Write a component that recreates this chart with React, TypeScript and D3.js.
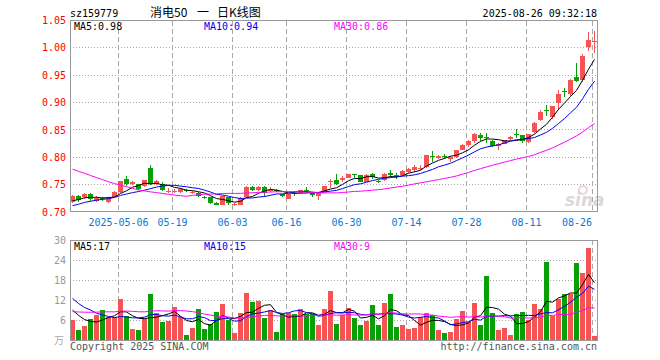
import React from "react";
import * as d3 from "d3";

// trading sessions shown (88), oldest first
const dates = [
  "2025-04-21", "2025-04-22", "2025-04-23", "2025-04-24", "2025-04-25", "2025-04-28", "2025-04-29", "2025-04-30",
  "2025-05-06", "2025-05-07", "2025-05-08", "2025-05-09", "2025-05-12", "2025-05-13", "2025-05-14", "2025-05-15", "2025-05-16",
  "2025-05-19", "2025-05-20", "2025-05-21", "2025-05-22", "2025-05-23", "2025-05-26", "2025-05-27", "2025-05-28", "2025-05-29", "2025-05-30",
  "2025-06-03", "2025-06-04", "2025-06-05", "2025-06-06", "2025-06-09", "2025-06-10", "2025-06-11", "2025-06-12", "2025-06-13",
  "2025-06-16", "2025-06-17", "2025-06-18", "2025-06-19", "2025-06-20", "2025-06-23", "2025-06-24", "2025-06-25", "2025-06-26", "2025-06-27",
  "2025-06-30", "2025-07-01", "2025-07-02", "2025-07-03", "2025-07-04", "2025-07-07", "2025-07-08", "2025-07-09", "2025-07-10", "2025-07-11",
  "2025-07-14", "2025-07-15", "2025-07-16", "2025-07-17", "2025-07-18", "2025-07-21", "2025-07-22", "2025-07-23", "2025-07-24", "2025-07-25",
  "2025-07-28", "2025-07-29", "2025-07-30", "2025-07-31", "2025-08-01", "2025-08-04", "2025-08-05", "2025-08-06", "2025-08-07", "2025-08-08",
  "2025-08-11", "2025-08-12", "2025-08-13", "2025-08-14", "2025-08-15", "2025-08-18", "2025-08-19", "2025-08-20", "2025-08-21", "2025-08-22", "2025-08-25",
  "2025-08-26",
];

const opens = [
  0.718, 0.730, 0.727, 0.733, 0.720, 0.725, 0.718, 0.728, 0.737, 0.760,
  0.751, 0.751, 0.748, 0.780, 0.751, 0.751, 0.738, 0.737, 0.736, 0.740,
  0.735, 0.735, 0.728, 0.727, 0.717, 0.713, 0.727, 0.713, 0.713, 0.727,
  0.746, 0.740, 0.745, 0.739, 0.740, 0.732, 0.724, 0.734, 0.735, 0.741,
  0.734, 0.729, 0.737, 0.756, 0.758, 0.758, 0.763, 0.769, 0.767, 0.755,
  0.769, 0.757, 0.758, 0.772, 0.767, 0.767, 0.774, 0.776, 0.780, 0.782,
  0.803, 0.798, 0.802, 0.796, 0.801, 0.814, 0.822, 0.830, 0.841, 0.837,
  0.830, 0.820, 0.825, 0.833, 0.842, 0.840, 0.828, 0.846, 0.869, 0.886,
  0.874, 0.899, 0.922, 0.915, 0.947, 0.941, 1.001, 1.010,
];
const highs = [
  0.731, 0.731, 0.735, 0.734, 0.729, 0.727, 0.727, 0.738, 0.757, 0.766,
  0.757, 0.752, 0.759, 0.785, 0.759, 0.754, 0.744, 0.742, 0.744, 0.742,
  0.739, 0.737, 0.729, 0.728, 0.718, 0.729, 0.728, 0.717, 0.727, 0.747,
  0.747, 0.748, 0.747, 0.745, 0.742, 0.733, 0.733, 0.738, 0.741, 0.746,
  0.735, 0.737, 0.748, 0.760, 0.769, 0.766, 0.770, 0.769, 0.768, 0.769,
  0.771, 0.758, 0.771, 0.777, 0.772, 0.776, 0.780, 0.785, 0.786, 0.805,
  0.811, 0.804, 0.806, 0.802, 0.814, 0.825, 0.831, 0.844, 0.845, 0.845,
  0.832, 0.827, 0.832, 0.838, 0.851, 0.841, 0.843, 0.864, 0.886, 0.895,
  0.894, 0.923, 0.926, 0.943, 0.972, 0.988, 1.029, 1.030,
];
const lows = [
  0.716, 0.719, 0.724, 0.721, 0.718, 0.720, 0.716, 0.727, 0.735, 0.748,
  0.749, 0.740, 0.746, 0.750, 0.749, 0.739, 0.735, 0.734, 0.734, 0.736,
  0.733, 0.727, 0.724, 0.715, 0.712, 0.712, 0.712, 0.711, 0.712, 0.726,
  0.739, 0.739, 0.727, 0.737, 0.736, 0.727, 0.723, 0.730, 0.734, 0.735,
  0.728, 0.722, 0.736, 0.743, 0.750, 0.755, 0.762, 0.762, 0.754, 0.754,
  0.760, 0.753, 0.757, 0.764, 0.761, 0.766, 0.772, 0.774, 0.777, 0.781,
  0.791, 0.796, 0.797, 0.792, 0.799, 0.813, 0.818, 0.827, 0.830, 0.826,
  0.818, 0.814, 0.824, 0.832, 0.835, 0.827, 0.826, 0.845, 0.867, 0.875,
  0.870, 0.886, 0.910, 0.912, 0.938, 0.938, 0.995, 0.990,
];
const closes = [
  0.730, 0.722, 0.733, 0.724, 0.726, 0.723, 0.726, 0.737, 0.757, 0.751,
  0.755, 0.742, 0.758, 0.751, 0.756, 0.741, 0.739, 0.738, 0.742, 0.739,
  0.737, 0.729, 0.727, 0.717, 0.713, 0.729, 0.717, 0.714, 0.725, 0.746,
  0.740, 0.746, 0.735, 0.740, 0.738, 0.729, 0.732, 0.733, 0.740, 0.740,
  0.731, 0.735, 0.747, 0.757, 0.751, 0.762, 0.769, 0.768, 0.755, 0.768,
  0.764, 0.755, 0.770, 0.767, 0.764, 0.775, 0.778, 0.783, 0.781, 0.804,
  0.801, 0.803, 0.801, 0.801, 0.813, 0.823, 0.830, 0.843, 0.836, 0.836,
  0.821, 0.825, 0.831, 0.837, 0.840, 0.830, 0.842, 0.863, 0.883, 0.884,
  0.893, 0.915, 0.921, 0.942, 0.940, 0.986, 1.015, 1.012,
];
// volume, 万
const volumes = [
  6.0, 3.0, 4.2, 6.3, 7.5, 9.0, 6.8, 6.8, 12.3, 7.2,
  3.3, 3.0, 6.2, 13.8, 8.0, 5.4, 5.7, 9.8, 6.8, 1.5,
  3.6, 9.3, 3.3, 4.7, 8.4, 10.8, 6.0, 2.1, 8.1, 14.1,
  11.5, 11.7, 6.7, 9.0, 2.5, 7.9, 8.1, 7.8, 9.2, 7.8,
  7.8, 4.5, 9.3, 14.7, 4.8, 7.5, 9.7, 6.5, 4.5, 5.8,
  10.5, 4.5, 11.2, 13.8, 3.9, 4.5, 3.4, 3.7, 6.8, 8.2,
  7.5, 3.1, 2.1, 2.5, 6.4, 8.8, 5.5, 11.2, 4.5, 19.3,
  8.2, 3.1, 3.7, 1.6, 7.8, 8.5, 6.0, 10.8, 9.3, 23.4,
  7.3, 12.3, 13.8, 13.8, 23.1, 20.1, 27.7, 1.2,
];

// the 29 sessions before the window, only used to warm up the moving averages
const priorCloses = [
  0.842, 0.838, 0.845, 0.840, 0.836, 0.842, 0.839, 0.836, 0.842, 0.840,
  0.836, 0.810, 0.803, 0.795, 0.790, 0.785, 0.780, 0.776, 0.770, 0.688,
  0.695, 0.700, 0.703, 0.705, 0.709, 0.712, 0.716, 0.720, 0.725,
];
const priorVolumes = [
  5.8, 6.2, 7.0, 6.5, 5.9, 6.8, 7.2, 6.0, 6.4, 5.5,
  6.9, 7.1, 6.3, 5.7, 6.6, 7.4, 6.1, 6.0, 5.3, 9.3,
  18.5, 16.0, 14.0, 17.0, 14.5, 11.0, 10.5, 9.0, 8.5,
];

const tickDates = ["2025-05-06", "2025-05-19", "2025-06-03", "2025-06-16", "2025-06-30", "2025-07-14", "2025-07-28", "2025-08-11", "2025-08-26"];
const priceTicks = [0.7, 0.75, 0.8, 0.85, 0.9, 0.95, 1.0, 1.05];
const volTicks = [6, 12, 18, 24, 30];
const maPeriods = [5, 10, 30];

const left = 70, right = 597;
const priceTop = 20.5, priceBottom = 212;
const volTop = 240, volBottom = 340;

const UP = "#f65454";
const DOWN = "#07a007";
const MA_COLORS = ["#000000", "#0000ee", "#ff00ff"];
const GRID = "#a8a8a8";
const MONO = "'DejaVu Sans Mono', monospace";
const CJK = "'Noto Sans CJK SC', sans-serif";

function movingAverage(prior: number[], values: number[], n: number) {
  const all = prior.concat(values);
  return values.map((_, i) => {
    const end = prior.length + i + 1;
    return d3.mean(all.slice(end - n, end)) as number;
  });
}

export default function App() {
  const x = d3.scaleBand<string>().domain(dates).range([left, right]).paddingInner(1 / 6).paddingOuter(0);
  const y = d3.scaleLinear().domain([0.7, 1.05]).range([priceBottom, priceTop]);
  const yv = d3.scaleLinear().domain([0, 30]).range([volBottom, volTop]);
  const bw = x.bandwidth();
  const cx = (d: string) => (x(d) as number) + bw / 2;

  const priceMA = maPeriods.map(n => movingAverage(priorCloses, closes, n));
  const volMA = maPeriods.map(n => movingAverage(priorVolumes, volumes, n));
  const priceLine = d3.line<number>().x((_, i) => cx(dates[i])).y(v => y(v));
  const volLine = d3.line<number>().x((_, i) => cx(dates[i])).y(v => yv(v));

  const last = dates.length - 1;
  const up = (i: number) => closes[i] >= opens[i];

  const vGrid = (top: number, bottom: number) =>
    tickDates.map(d => (
      <line key={d} x1={(x(d) as number) + 0.5} x2={(x(d) as number) + 0.5} y1={top} y2={bottom}
        stroke={GRID} strokeDasharray="5,3" />
    ));

  return (
    <svg width={660} height={360} style={{ position: "absolute", left: 0, top: 0, background: "#fff" }}
      fontFamily={MONO} fontSize={10}>
      {/* header */}
      <text x={70} y={16.5} fill="#000">sz159779</text>
      <g fontSize={12} fontFamily={CJK} fill="#000">
        <text x={150} y={16.5}>消电50</text>
        <text x={197} y={16.5}>一</text>
        <text x={217} y={16.5}>日K线图</text>
      </g>
      <text x={597} y={16.5} textAnchor="end" fill="#000">2025-08-26 09:32:18</text>

      {/* price panel grid */}
      <g shapeRendering="crispEdges">
        {priceTicks.slice(1, -1).map(t => (
          <line key={t} x1={left} x2={right} y1={Math.floor(y(t)) + 0.5} y2={Math.floor(y(t)) + 0.5}
            stroke={GRID} strokeDasharray="1,2" />
        ))}
        {vGrid(priceTop, priceBottom)}
      </g>
      {priceTicks.map(t => (
        <text key={t} x={66} y={y(t) + 3.6} textAnchor="end" fill="#f00">{t.toFixed(2)}</text>
      ))}

      {/* sina watermark */}
      <g opacity={0.55}>
        <circle cx={583} cy={190} r={4} fill="none" stroke="#eaa" strokeWidth={2} />
        <text x={565} y={206} fontFamily="'DejaVu Sans', sans-serif" fontSize={17} fontStyle="italic"
          fontWeight="bold" fill="#bbb">sina</text>
      </g>

      <defs>
        <clipPath id="priceClip"><rect x={left} y={priceTop} width={right - left} height={priceBottom - priceTop} /></clipPath>
        <clipPath id="volClip"><rect x={left} y={volTop} width={right - left} height={volBottom - volTop} /></clipPath>
      </defs>

      {/* candles */}
      <g shapeRendering="crispEdges">
        {dates.map((d, i) => {
          const col = up(i) ? UP : DOWN;
          const top = y(Math.max(opens[i], closes[i]));
          const bot = y(Math.min(opens[i], closes[i]));
          return (
            <g key={d}>
              <line x1={cx(d)} x2={cx(d)} y1={y(highs[i])} y2={y(lows[i])} stroke={col} />
              <rect x={x(d)} y={top} width={bw} height={Math.max(1, bot - top)} fill={col} />
            </g>
          );
        })}
      </g>
      <g clipPath="url(#priceClip)" fill="none">
        {priceMA.map((ma, k) => (
          <path key={k} d={priceLine(ma) as string} stroke={MA_COLORS[k]} strokeWidth={1} />
        ))}
      </g>

      <rect x={left + 0.5} y={priceTop} width={right - left} height={priceBottom - priceTop - 0.5}
        fill="none" stroke="#999" shapeRendering="crispEdges" />

      {maPeriods.map((n, k) => (
        <text key={n} x={[74, 204, 334][k]} y={29.5} fill={MA_COLORS[k]}>
          {`MA${n}:${priceMA[k][last].toFixed(2)}`}
        </text>
      ))}

      {/* date axis */}
      {tickDates.map((d, i) => (
        <text key={d} x={i === tickDates.length - 1 ? (x(d) as number) : (x(d) as number) + 0.5} y={226}
          textAnchor={i === tickDates.length - 1 ? "end" : "middle"} fill="#0a78d2">
          {i === 0 ? d : d.slice(5)}
        </text>
      ))}

      {/* volume panel */}
      <g shapeRendering="crispEdges">
        {volTicks.slice(0, -1).map(t => (
          <line key={t} x1={left} x2={right} y1={Math.floor(yv(t)) + 0.5} y2={Math.floor(yv(t)) + 0.5}
            stroke={GRID} strokeDasharray="1,2" />
        ))}
        {vGrid(volTop, volBottom)}
        {dates.map((d, i) => (
          <rect key={d} x={x(d)} y={yv(volumes[i])} width={bw} height={volBottom - yv(volumes[i])}
            fill={up(i) ? UP : DOWN} />
        ))}
      </g>
      <g clipPath="url(#volClip)" fill="none">
        {volMA.map((ma, k) => (
          <path key={k} d={volLine(ma) as string} stroke={MA_COLORS[k]} strokeWidth={1} />
        ))}
      </g>
      <rect x={left + 0.5} y={volTop + 0.5} width={right - left} height={volBottom - volTop}
        fill="none" stroke="#999" shapeRendering="crispEdges" />
      {volTicks.map(t => (
        <text key={t} x={66} y={yv(t) + 3.6} textAnchor="end" fill="#999">{t}</text>
      ))}
      <text x={64} y={344} textAnchor="end" fontFamily={CJK} fontSize={10} fill="#aaa">万</text>

      {maPeriods.map((n, k) => (
        <text key={n} x={[74, 204, 334][k]} y={250} fill={MA_COLORS[k]}>
          {`MA${n}:${Math.floor(volMA[k][last])}`}
        </text>
      ))}

      <text x={70} y={350} fill="#555">Copyright 2025 SINA.COM</text>
      <text x={597} y={350} textAnchor="end" fill="#555">http://finance.sina.com.cn</text>
    </svg>
  );
}
